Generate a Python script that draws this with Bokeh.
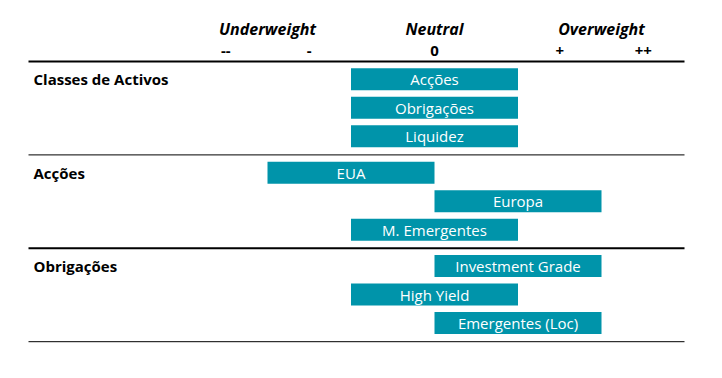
from bokeh.plotting import figure
from bokeh.models import Range1d, ColumnDataSource
from bokeh.core.properties import value
from bokeh.embed import file_html
from bokeh.resources import INLINE

# ---- data ----
groups = ["Classes de Activos", "Acções", "Obrigações"]
items = [
    ["Acções", "Obrigações", "Liquidez"],
    ["EUA", "Europa", "M. Emergentes"],
    ["Investment Grade", "High Yield", "Emergentes (Loc)"],
]
positions = [
    [0, 0, 0],
    [-1, 1, 0],
    [1, 0, 1],
]
header_labels = ["Underweight", "Neutral", "Overweight"]
header_pos = [-2, 0, 2]
tick_labels = ["--", "-", "0", "+", "++"]
tick_pos = [-2.5, -1.5, 0, 1.5, 2.5]

# ---- layout ----
W, H = 722, 378
X0_PX = 434.0      # pixel of neutral (0)
UNIT_PX = 83.5     # pixels per weight unit
def px2x(px):
    return (px - X0_PX) / UNIT_PX

SEP_TOP = 61.0
GROUP_H = 93.4
ROW_OFF = 17.8
ROW_H = 28.5
BAR_H = 22
TEAL = "#0094AA"

p = figure(width=W, height=H, output_backend="svg", toolbar_location=None,
           x_axis_type=None, y_axis_type=None,
           x_range=Range1d(px2x(0), px2x(W)), y_range=Range1d(H, 0),
           min_border=0)
p.grid.visible = False
p.outline_line_color = None
p.background_fill_color = "white"
p.border_fill_color = "white"

ys, lefts, rights, centers, labels = [], [], [], [], []
sec_y = []
for g, (names, vals) in enumerate(zip(items, positions)):
    top = SEP_TOP + GROUP_H * g
    sec_y.append(top + ROW_OFF)
    for j, (n, v) in enumerate(zip(names, vals)):
        ys.append(top + ROW_OFF + ROW_H * j)
        lefts.append(v - 1)
        rights.append(v + 1)
        centers.append(v)
        labels.append(n)

src = ColumnDataSource(dict(y=ys, left=lefts, right=rights, c=centers, t=labels))
p.hbar(y="y", left="left", right="right", height=BAR_H, source=src,
       fill_color=TEAL, line_color=None)
p.text(x="c", y="y", text="t", source=src, text_color="white",
       text_font=value("Open Sans"), text_font_size="15px",
       text_align="center", text_baseline="middle", y_offset=0)

# separators
sep_y = [SEP_TOP + GROUP_H * k for k in range(len(groups) + 1)]
sep_w = [2, 1, 2, 1]
for yy, ww in zip(sep_y, sep_w):
    p.segment(x0=[px2x(28)], x1=[px2x(684)], y0=[yy], y1=[yy],
              line_color="black", line_width=ww)

# section labels
p.text(x=[px2x(33)] * len(groups), y=sec_y, text=groups,
       text_font=value("Open Sans"), text_font_style="bold", text_font_size="15px",
       text_color="black", text_align="left", text_baseline="middle")

# header
p.text(x=header_pos, y=[28] * len(header_pos), text=header_labels,
       text_font=value("Open Sans"), text_font_style="bold italic", text_font_size="16px",
       text_color="black", text_align="center", text_baseline="middle")
p.text(x=tick_pos, y=[50] * len(tick_pos), text=tick_labels,
       text_font=value("Open Sans"), text_font_style="bold", text_font_size="15px",
       text_color="black", text_align="center", text_baseline="middle")

open("out.html", "w").write(file_html(p, INLINE))
